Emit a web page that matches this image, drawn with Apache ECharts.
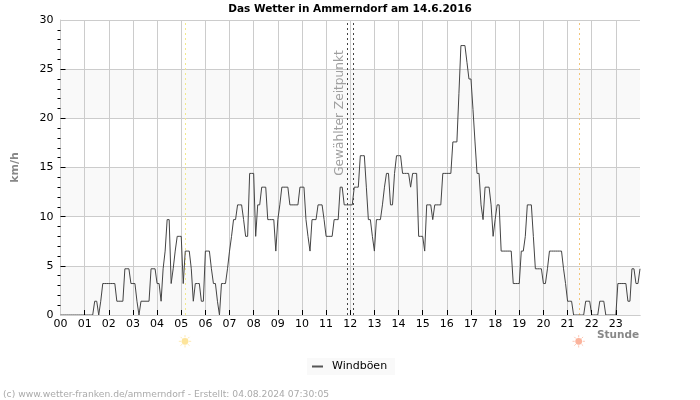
<!DOCTYPE html>
<html><head><meta charset="utf-8">
<style>html,body{margin:0;padding:0;background:#fff}#c{width:700px;height:400px}</style>
<script src="https://cdn.jsdelivr.net/npm/echarts@6/dist/echarts.min.js"></script>
</head><body><div id="c"></div>
<script>
const titleText = 'Das Wetter in Ammerndorf am 14.6.2016';
const seriesName = 'Windböen';
const yTicks = { min: 0, max: 30, interval: 5 };
const hourTicks = [1,2,3,4,5,6,7,8,9,10,11,12,13,14,15,16,17,18,19,20,21,22,23];
const speedTicks = [5,10,15,20,25];
// 5-minute samples, one line per hour
const windboeen = [
 0,0,0,0,0,0,0,0,0,0,0,0,
 0,0,0,0,0,1.4,1.4,0,1.4,3.2,3.2,3.2,
 3.2,3.2,3.2,3.2,1.4,1.4,1.4,1.4,4.7,4.7,4.7,3.2,
 3.2,3.2,1.4,0,1.4,1.4,1.4,1.4,1.4,4.7,4.7,4.7,
 3.2,3.2,1.4,4.7,6.5,9.7,9.7,3.2,4.7,6.5,8,8,
 8,3.2,6.5,6.5,6.5,4.7,1.4,3.2,3.2,3.2,1.4,1.4,
 6.5,6.5,6.5,4.7,3.2,3.2,1.4,0,3.2,3.2,3.2,4.7,
 6.5,8,9.7,9.7,11.2,11.2,11.2,9.7,8,8,14.4,14.4,
 14.4,8,11.2,11.2,13,13,13,9.7,9.7,9.7,9.7,6.5,
 9.7,11.2,13,13,13,13,11.2,11.2,11.2,11.2,11.2,13,
 13,13,9.7,8,6.5,9.7,9.7,9.7,11.2,11.2,11.2,9.7,
 8,8,8,8,9.7,9.7,9.7,13,13,11.2,11.2,11.2,
 11.2,11.2,13,13,13,16.2,16.2,16.2,13,9.7,9.7,8,
 6.5,9.7,9.7,9.7,11.2,13,14.4,14.4,11.2,11.2,14.4,16.2,
 16.2,16.2,14.4,14.4,14.4,14.4,13,14.4,14.4,14.4,8,8,
 8,6.5,11.2,11.2,11.2,9.7,11.2,11.2,11.2,11.2,14.4,14.4,
 14.4,14.4,14.4,17.6,17.6,17.6,22.5,27.4,27.4,27.4,25.7,24,
 24,20.9,17.6,14.4,14.4,11.2,9.7,13,13,13,11.2,8,
 9.7,11.2,11.2,6.5,6.5,6.5,6.5,6.5,6.5,3.2,3.2,3.2,
 3.2,6.5,6.5,8,11.2,11.2,11.2,8,4.7,4.7,4.7,4.7,
 3.2,3.2,4.7,6.5,6.5,6.5,6.5,6.5,6.5,6.5,4.7,3.2,
 1.4,1.4,1.4,0,0,0,0,0,0,1.4,1.4,1.4,
 0,0,0,0,1.4,1.4,1.4,0,0,0,0,0,
 0,3.2,3.2,3.2,3.2,3.2,1.4,1.4,4.7,4.7,3.2,3.2,
 4.7
];
const sunrise = 5.177, sunset = 21.494;
const selectedFrom = 11.886, selectedTo = 12.134;
const F = '"DejaVu Sans"';
const vline = (x, color, dash) => ({
  xAxis: x, symbol: 'none', label: { show: false },
  lineStyle: { color, type: dash, width: 1 }
});
function sun(cx, cy, core, ray) {
  const rays = [];
  for (let k = 0; k < 8; k++) {
    const a = k * Math.PI / 4, c = Math.cos(a), s = Math.sin(a);
    rays.push({ type: 'line', z: 10, silent: true,
      shape: { x1: cx + 4 * c, y1: cy + 4 * s, x2: cx + 6.2 * c, y2: cy + 6.2 * s },
      style: { stroke: ray, lineWidth: 1 } });
  }
  rays.push({ type: 'circle', z: 11, silent: true, shape: { cx, cy, r: 3.4 }, style: { fill: core } });
  return rays;
}
const chart = echarts.init(document.getElementById('c'), null, { renderer: 'canvas' });
chart.setOption({
  animation: false,
  backgroundColor: '#fff',
  title: { text: titleText, left: 'center', top: 4, padding: 0,
    textStyle: { fontFamily: F, fontSize: 10.5, fontWeight: 'bold', color: '#000' } },
  grid: { left: 60.5, right: 60, top: 20, bottom: 85, containLabel: false },
  legend: { data: [seriesName], left: 307, top: 358, backgroundColor: '#f9f9f9', padding: [3, 8, 3, 5],
    itemWidth: 11, itemHeight: 2, itemGap: 0, icon: 'rect',
    textStyle: { fontFamily: F, fontSize: 11, color: '#000', padding: [0, 0, 0, 4] } },
  xAxis: [{ type: 'value', min: 0, max: 24, interval: 1,
    axisLine: { show: true, onZero: false, lineStyle: { color: '#ccc', width: 1 } },
    axisTick: { show: true, inside: true, length: 5, customValues: hourTicks, lineStyle: { color: '#000', width: 1 } },
    splitLine: { show: true, lineStyle: { color: '#ccc', width: 1 } },
    axisLabel: { fontFamily: F, fontSize: 11, color: '#000', margin: 4,
      formatter: v => v >= 24 ? '' : String(v).padStart(2, '0') } },
    { type: 'value', min: 0, max: 24, position: 'bottom', z: 8,
      axisLine: { show: true, onZero: false, lineStyle: { color: '#ccc', width: 1 } },
      axisTick: { show: true, inside: true, length: 5, customValues: hourTicks, lineStyle: { color: '#000', width: 1 } },
      splitLine: { show: false }, axisLabel: { show: false } }],
  yAxis: [{ type: 'value', min: yTicks.min, max: yTicks.max, interval: yTicks.interval,
    name: 'km/h', nameLocation: 'middle', nameGap: 40, nameRotate: 90,
    nameTextStyle: { fontFamily: F, fontSize: 11, color: '#888', fontWeight: 'bold' },
    axisLine: { show: true, lineStyle: { color: '#ccc', width: 1 } },
    axisTick: { show: false },
    minorTick: { show: true, splitNumber: 5, length: 3, lineStyle: { color: '#000', width: 1 } },
    splitLine: { show: true, lineStyle: { color: '#ccc', width: 1 } },
    splitArea: { show: true, areaStyle: { color: ['#f9f9f9', '#ffffff'] } },
    axisLabel: { fontFamily: F, fontSize: 11, color: '#000', margin: 7 } },
    { type: 'value', min: yTicks.min, max: yTicks.max, interval: yTicks.interval, position: 'left',
      axisLine: { show: false },
      axisTick: { show: true, inside: true, length: 5, customValues: speedTicks, lineStyle: { color: '#000', width: 1 } },
      splitLine: { show: false }, axisLabel: { show: false } }],
  series: [{
    name: seriesName, type: 'line', showSymbol: false, symbol: 'none',
    data: windboeen.map((v, i) => [i / 12, v]), z: 5,
    lineStyle: { color: '#444', width: 1 }, itemStyle: { color: '#555' },
    markLine: { silent: true, animation: false, symbol: 'none', z: 4,
      data: [
        vline(sunrise, '#f3e98a', [2, 3]),
        vline(sunset, '#f2c57c', [2, 3]),
        vline(selectedFrom, '#444', [2, 3]),
        vline(selectedTo, '#444', [2, 3])
      ] }
  }],
  graphic: [
    { type: 'text', x: 339.5, y: 113, rotation: Math.PI / 2, z: 10, silent: true,
      style: { text: 'Gewählter Zeitpunkt', fontFamily: F, fontSize: 12.2, fill: '#a0a0a0', align: 'center', verticalAlign: 'middle' } },
    { type: 'text', left: 597, top: 330, z: 10,
      style: { text: 'Stunde', fontFamily: F, fontSize: 10.5, fontWeight: 'bold', fill: '#888' } },
    ...sun(185, 341.3, '#fde49a', '#fde9b4'),
    ...sun(578.7, 341.3, '#fbb39c', '#fcc8b6'),
    { type: 'text', left: 3, top: 390, z: 10,
      style: { text: '(c) www.wetter-franken.de/ammerndorf - Erstellt: 04.08.2024 07:30:05', fontFamily: F, fontSize: 9.2, fill: '#aaa' } }
  ]
});
</script></body></html>
